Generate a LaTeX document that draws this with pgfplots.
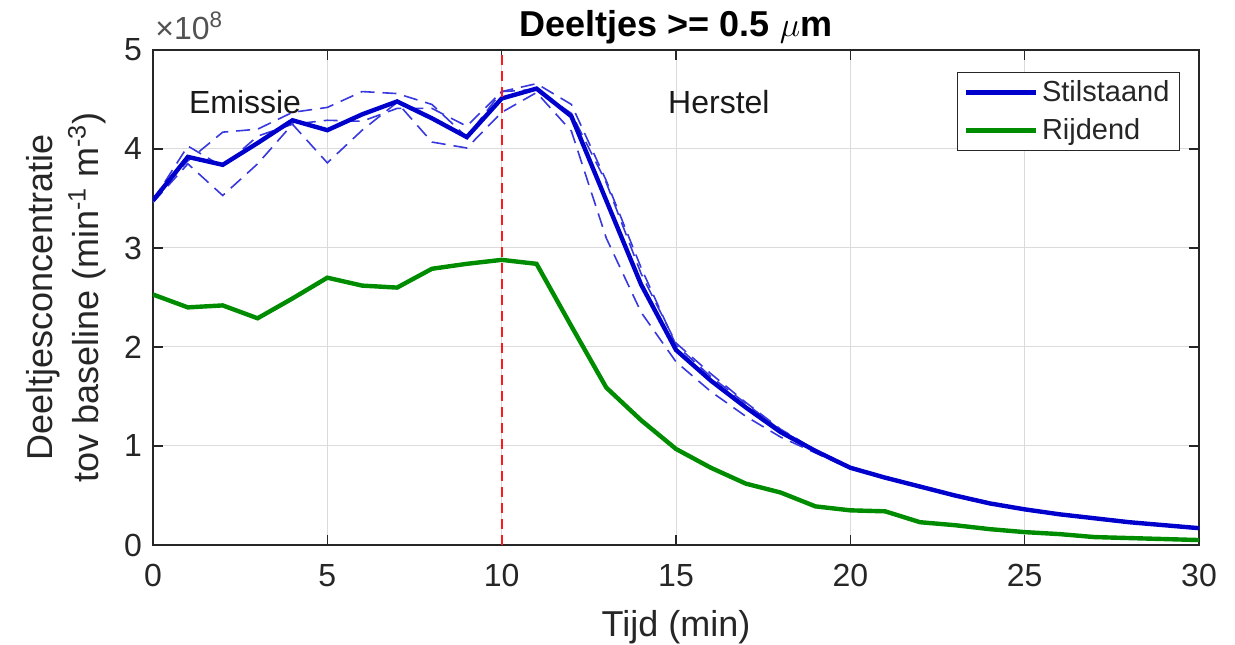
\documentclass[border=0pt]{standalone}
\usepackage{fontspec}
\setmainfont{Liberation Sans}
\usepackage{pgfplots}
\usepackage{pgfplotstable}
\pgfplotsset{compat=1.18}

\definecolor{mblue}{rgb}{0,0,0.8}
\definecolor{mdash}{rgb}{0.22,0.22,0.88}
\definecolor{mgreen}{rgb}{0,0.55,0}
\definecolor{mred}{rgb}{1,0.1,0.1}
\definecolor{axgray}{rgb}{0.15,0.15,0.15}

% values in units of 1e8
\pgfplotstableread{
t  S     A     B     C     G
0  3.48  3.50  3.46  3.48  2.53
1  3.92  3.88  3.85  4.03  2.40
2  3.84  4.17  3.53  3.82  2.42
3  4.06  4.20  3.85  4.13  2.29
4  4.29  4.37  4.25  4.25  2.49
5  4.19  4.42  3.86  4.29  2.70
6  4.35  4.58  4.19  4.28  2.62
7  4.48  4.56  4.47  4.41  2.60
8  4.31  4.45  4.07  4.41  2.79
9  4.12  4.12  4.01  4.23  2.84
10 4.51  4.58  4.37  4.58  2.88
11 4.61  4.66  4.57  4.60  2.84
12 4.33  4.45  4.18  4.36  2.21
13 3.48  3.68  3.10  3.66  1.59
14 2.63  2.80  2.35  2.74  1.26
15 1.97  2.02  1.85  2.04  0.97
16 1.66  1.70  1.55  1.73  0.78
17 1.39  1.43  1.30  1.44  0.62
18 1.14  1.16  1.09  1.17  0.53
19 0.95  0.96  0.93  0.96  0.39
20 0.78  0.79  0.77  0.78  0.35
21 0.68  0.69  0.68  0.67  0.34
22 0.59  0.60  0.58  0.59  0.23
23 0.50  0.51  0.50  0.49  0.20
24 0.42  0.43  0.42  0.41  0.16
25 0.36  0.36  0.36  0.36  0.13
26 0.31  0.31  0.31  0.31  0.11
27 0.27  0.27  0.27  0.27  0.08
28 0.23  0.23  0.23  0.23  0.07
29 0.20  0.20  0.20  0.20  0.06
30 0.17  0.17  0.17  0.17  0.05
}\datatable

\pgfplotstableread{
t  v
10 0
10 5
}\redline

\begin{document}
\begin{tikzpicture}
\begin{axis}[
  scale only axis, width=523pt, height=247.5pt,
  xmin=0, xmax=30, ymin=0, ymax=5,
  xtick={0,5,...,30}, ytick={0,1,...,5},
  grid=major, major grid style={color=black!14, line width=0.5pt},
  axis line style={axgray, line width=0.6pt},
  tick style={axgray, line width=0.6pt},
  tick align=inside, major tick length=5pt,
  /pgf/number format/assume math mode=true,
  ticklabel style={font=\fontsize{16}{19}\selectfont, color=axgray},
  xticklabel style={yshift=-6pt},
  yticklabel style={xshift=-2pt},
  every axis title shift=0pt,
  title={Deeltjes >= 0.5 $\mu$m},
  title style={font=\bfseries\fontsize{18}{21}\selectfont, at={(axis description cs:0.5,1)}, anchor=base, yshift=6.75pt},
  xlabel={Tijd (min)},
  xlabel style={font=\fontsize{18}{21}\selectfont, color=axgray, at={(axis description cs:0.5,0)}, anchor=base, yshift=-46pt},
  ylabel={Deeltjesconcentratie\\tov baseline (min\textsuperscript{-1} m\textsuperscript{-3})},
  ylabel style={font=\fontsize{18}{23}\selectfont, color=axgray, align=center, at={(axis description cs:-0.0832,0.5)}, anchor=center},
  legend style={at={(axis description cs:1,1)}, anchor=north east, xshift=-9.5pt, yshift=-11pt,
    draw=axgray, line width=0.6pt, font=\fontsize{14.5}{17}\selectfont, text=axgray,
    inner xsep=3pt, inner ysep=2pt, row sep=3pt},
  legend cell align=left,
  legend image code/.code={\draw[#1, line width=2.2pt] (0pt,0pt) -- (35pt,0pt);},
]
\addplot[mdash, line width=0.8pt, dash pattern=on 7pt off 4pt, forget plot] table[x=t, y=A] {\datatable};
\addplot[mdash, line width=0.8pt, dash pattern=on 7pt off 4pt, forget plot] table[x=t, y=B] {\datatable};
\addplot[mdash, line width=0.8pt, dash pattern=on 7pt off 4pt, forget plot] table[x=t, y=C] {\datatable};
\addplot[mblue, line width=2.2pt] table[x=t, y=S] {\datatable};
\addlegendentry{Stilstaand}
\addplot[mgreen, line width=2.2pt] table[x=t, y=G] {\datatable};
\addlegendentry{Rijdend}
\addplot[draw=mred, line width=1pt, dash pattern=on 5pt off 3pt, forget plot] table[x=t, y=v] {\redline};
\node[font=\fontsize{16}{19}\selectfont, text=black!90] at (axis cs:2.64,4.47) {Emissie};
\node[font=\fontsize{16}{19}\selectfont, text=black!90] at (axis cs:16.23,4.47) {Herstel};
\end{axis}
\node[anchor=base west, font=\fontsize{16}{19}\selectfont, text=axgray!80, inner sep=0pt] at ([xshift=1pt,yshift=5pt]current axis.north west) {×10\textsuperscript{8}};
\pgfresetboundingbox
\path[use as bounding box] ([xshift=-76.5pt,yshift=-50pt]current axis.south west) rectangle ([xshift=18pt,yshift=25pt]current axis.north east);
\end{tikzpicture}
\end{document}
